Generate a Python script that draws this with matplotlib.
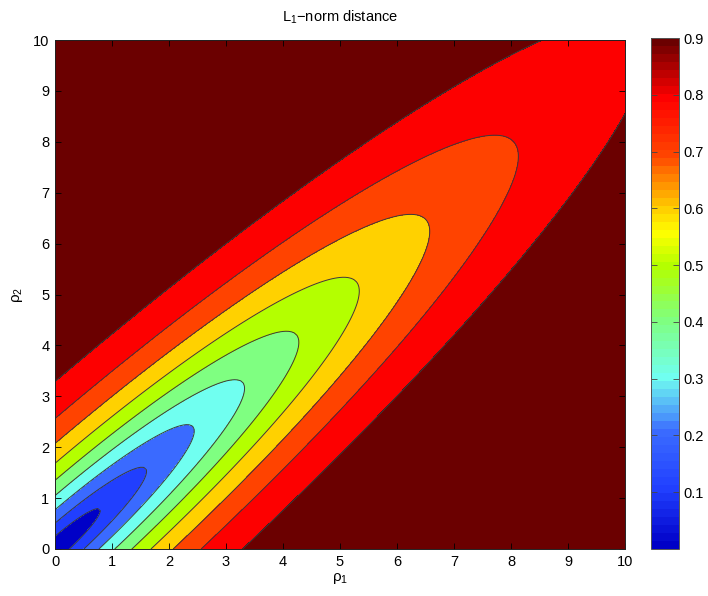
import math
import numpy as np
import matplotlib
matplotlib.use('Agg')
import matplotlib.pyplot as plt
from matplotlib.colors import LinearSegmentedColormap, ListedColormap, Normalize
from matplotlib.cm import ScalarMappable

plt.rcParams['font.family'] = ['Liberation Sans', 'DejaVu Sans']
plt.rcParams['mathtext.fontset'] = 'custom'
plt.rcParams['mathtext.rm'] = 'Liberation Sans'
plt.rcParams['mathtext.it'] = 'Liberation Sans:italic'

# grid of the two parameters
rho1 = np.linspace(0, 10, 201)
rho2 = np.linspace(0, 10, 201)
# correlation between the two mean directions
corr = 0.949

levels = [0.1, 0.2, 0.3, 0.4, 0.5, 0.6, 0.7, 0.8, 0.9]
cbar_ticks = [0.1, 0.2, 0.3, 0.4, 0.5, 0.6, 0.7, 0.8, 0.9]
axis_ticks = [0, 1, 2, 3, 4, 5, 6, 7, 8, 9, 10]
clim = (0.0, 0.9)

# colormap anchors (value, colour) as seen in the colorbar
anchors = [
    (0.00, (0.00, 0.00, 0.78)),
    (0.10, (0.13, 0.25, 1.00)),
    (0.20, (0.23, 0.42, 1.00)),
    (0.30, (0.44, 1.00, 0.94)),
    (0.40, (0.50, 1.00, 0.50)),
    (0.50, (0.70, 1.00, 0.00)),
    (0.56, (1.00, 1.00, 0.00)),
    (0.60, (1.00, 0.82, 0.00)),
    (0.70, (1.00, 0.27, 0.00)),
    (0.80, (1.00, 0.00, 0.00)),
    (0.90, (0.42, 0.00, 0.00)),
]
base = LinearSegmentedColormap.from_list(
    'cbar', [(v / clim[1], c) for v, c in anchors])
cmap = ListedColormap(base(np.linspace(0, 1, 64)))
norm = Normalize(*clim)

# L1 (total variation) distance between two unit-variance gaussians
R1, R2 = np.meshgrid(rho1, rho2)
delta = np.sqrt(np.maximum(R1**2 + R2**2 - 2 * corr * R1 * R2, 0))
Z = np.vectorize(math.erf)(delta / (2 * math.sqrt(2)))

fig = plt.figure(figsize=(7.08, 5.96), dpi=100)
ax = fig.add_axes([55 / 708, 47 / 596, 570 / 708, 509 / 596])

fill_levels = [0.0] + levels + [1.0]
fill_colors = [cmap(norm(l)) for l in fill_levels[:-1]]
ax.contourf(R1, R2, Z, levels=fill_levels, colors=fill_colors)
ax.contour(R1, R2, Z, levels=levels, colors='#3a3a3a', linewidths=0.7)

ax.set_xlim(0, 10)
ax.set_ylim(0, 10)
ax.set_xticks(axis_ticks)
ax.set_yticks(axis_ticks)
ax.tick_params(direction='in', top=True, right=True, length=4,
               width=0.6, labelsize=10.5, pad=4)
for sp in ax.spines.values():
    sp.set_linewidth(0.7)
    sp.set_color('#222222')

ax.set_xlabel('ρ$_1$', fontsize=11, labelpad=2)
ax.set_ylabel('ρ$_2$', fontsize=11, labelpad=6)
ax.set_title('L$_1$\u2212norm distance', fontsize=10.5, pad=13)

# colorbar
cax = fig.add_axes([651 / 708, 47 / 596, 28 / 708, 511 / 596])
cb = fig.colorbar(ScalarMappable(norm=norm, cmap=cmap), cax=cax)
cb.set_ticks(cbar_ticks)
cb.set_ticklabels([f'{t:.1f}' for t in cbar_ticks])
cax.tick_params(axis='y', direction='in', left=True, right=True,
                length=4, width=0.6, labelsize=10.5, color='#444444')
cb.outline.set_linewidth(0.7)
cb.outline.set_edgecolor('#555555')

fig.savefig('out.png', dpi=100)
